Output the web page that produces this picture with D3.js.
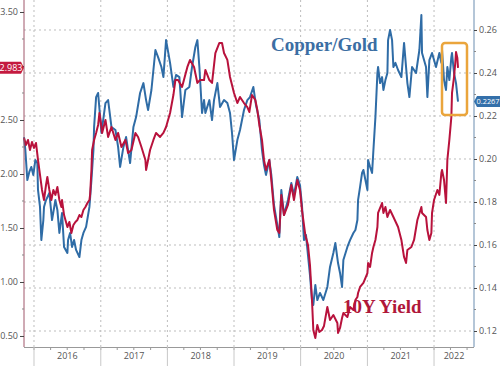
<!DOCTYPE html>
<html><head><meta charset="utf-8">
<script src="https://cdn.jsdelivr.net/npm/d3@7"></script>
<style>body{margin:0;background:#fff}svg{display:block}</style>
</head><body><svg id="c" width="500" height="366"></svg>
<script>
// ---- data (dates as decimal years) ----
const yieldYears = [2015.85,2015.88,2015.91,2015.94,2015.97,2016.00,2016.03,2016.06,2016.09,2016.12,2016.15,2016.18,2016.20,2016.23,2016.26,2016.29,2016.32,2016.35,2016.38,2016.41,2016.42,2016.45,2016.50,2016.53,2016.56,2016.59,2016.62,2016.65,2016.68,2016.71,2016.74,2016.77,2016.80,2016.83,2016.84,2016.86,2016.87,2016.90,2016.93,2016.96,2016.98,2017.01,2017.02,2017.07,2017.11,2017.16,2017.22,2017.26,2017.31,2017.37,2017.41,2017.46,2017.52,2017.56,2017.61,2017.67,2017.68,2017.74,2017.79,2017.83,2017.89,2017.94,2017.98,2018.04,2018.09,2018.12,2018.16,2018.22,2018.30,2018.34,2018.40,2018.45,2018.49,2018.55,2018.57,2018.63,2018.67,2018.72,2018.78,2018.82,2018.85,2018.90,2018.94,2019.00,2019.05,2019.09,2019.15,2019.20,2019.23,2019.27,2019.32,2019.35,2019.38,2019.42,2019.45,2019.48,2019.53,2019.56,2019.60,2019.65,2019.68,2019.71,2019.75,2019.81,2019.86,2019.90,2019.95,2019.99,2020.02,2020.07,2020.11,2020.14,2020.17,2020.19,2020.22,2020.25,2020.28,2020.32,2020.35,2020.40,2020.44,2020.49,2020.55,2020.56,2020.59,2020.62,2020.64,2020.70,2020.74,2020.79,2020.82,2020.85,2020.86,2020.89,2020.94,2021.00,2021.01,2021.04,2021.07,2021.09,2021.12,2021.15,2021.16,2021.22,2021.24,2021.27,2021.30,2021.34,2021.39,2021.46,2021.51,2021.55,2021.58,2021.60,2021.66,2021.70,2021.75,2021.81,2021.82,2021.88,2021.90,2021.93,2021.96,2021.97,2022.00,2022.05,2022.08,2022.11,2022.12,2022.15,2022.18,2022.20,2022.23,2022.26,2022.27,2022.30,2022.32,2022.33,2022.35,2022.36];
const yieldValues = [2.333,2.269,2.315,2.222,2.296,2.241,2.287,2.130,1.991,1.852,1.759,1.898,1.972,1.852,1.759,1.852,1.806,1.880,1.759,1.694,1.759,1.620,1.509,1.556,1.454,1.528,1.556,1.574,1.620,1.602,1.667,1.694,1.731,1.759,1.806,2.037,2.222,2.315,2.380,2.454,2.565,2.435,2.380,2.500,2.343,2.435,2.315,2.380,2.250,2.315,2.194,2.222,2.380,2.343,2.250,2.130,2.037,2.222,2.315,2.380,2.343,2.380,2.435,2.565,2.731,2.870,2.870,2.806,2.991,3.056,2.991,2.843,2.870,2.870,2.963,2.870,2.843,3.120,3.213,3.213,3.120,3.056,2.898,2.750,2.657,2.713,2.657,2.620,2.574,2.731,2.685,2.593,2.454,2.315,2.130,2.037,2.130,1.944,1.667,1.481,1.454,1.806,1.620,1.713,1.898,1.759,1.944,1.852,1.667,1.435,1.343,1.157,0.833,0.556,0.481,0.602,0.537,0.556,0.593,0.769,0.648,0.694,0.620,0.528,0.574,0.667,0.713,0.676,0.769,0.741,0.833,0.861,0.898,0.954,0.991,1.083,1.176,1.139,1.269,1.324,1.389,1.509,1.639,1.731,1.639,1.694,1.602,1.667,1.602,1.509,1.389,1.231,1.176,1.296,1.324,1.389,1.574,1.694,1.639,1.602,1.481,1.389,1.454,1.639,1.759,1.852,1.806,2.009,2.037,1.944,1.731,2.130,2.315,2.528,2.750,2.898,3.037,3.130,3.074,2.983];

const ratioYears = [2015.85,2015.87,2015.90,2015.93,2015.96,2015.99,2016.02,2016.05,2016.06,2016.09,2016.11,2016.14,2016.15,2016.18,2016.23,2016.27,2016.32,2016.35,2016.38,2016.42,2016.45,2016.50,2016.51,2016.54,2016.57,2016.60,2016.63,2016.68,2016.71,2016.74,2016.78,2016.83,2016.86,2016.89,2016.90,2016.93,2016.96,2017.01,2017.07,2017.11,2017.16,2017.22,2017.26,2017.29,2017.34,2017.38,2017.44,2017.49,2017.53,2017.59,2017.64,2017.68,2017.71,2017.76,2017.82,2017.86,2017.91,2017.94,2017.98,2018.04,2018.09,2018.13,2018.18,2018.22,2018.27,2018.33,2018.37,2018.42,2018.45,2018.48,2018.52,2018.55,2018.57,2018.63,2018.67,2018.70,2018.75,2018.79,2018.85,2018.90,2018.94,2018.97,2019.00,2019.05,2019.09,2019.15,2019.20,2019.24,2019.29,2019.33,2019.38,2019.42,2019.45,2019.48,2019.53,2019.56,2019.60,2019.65,2019.68,2019.71,2019.75,2019.81,2019.86,2019.90,2019.95,2019.99,2020.02,2020.05,2020.08,2020.11,2020.14,2020.17,2020.19,2020.22,2020.25,2020.29,2020.34,2020.40,2020.44,2020.49,2020.52,2020.56,2020.59,2020.62,2020.64,2020.70,2020.74,2020.79,2020.82,2020.85,2020.86,2020.89,2020.92,2020.94,2020.97,2021.00,2021.01,2021.04,2021.07,2021.09,2021.12,2021.15,2021.16,2021.19,2021.22,2021.24,2021.27,2021.30,2021.31,2021.34,2021.37,2021.39,2021.42,2021.46,2021.51,2021.55,2021.60,2021.63,2021.67,2021.73,2021.78,2021.81,2021.82,2021.88,2021.90,2021.93,2021.97,2022.03,2022.08,2022.11,2022.12,2022.15,2022.18,2022.20,2022.23,2022.26,2022.27,2022.30,2022.33,2022.36];
const ratioValues = [0.2102,0.2042,0.1902,0.1940,0.1963,0.1926,0.1995,0.1981,0.1856,0.1777,0.1623,0.1716,0.1777,0.1809,0.1842,0.1716,0.1809,0.1763,0.1656,0.1749,0.1591,0.1563,0.1623,0.1656,0.1591,0.1623,0.1577,0.1544,0.1623,0.1656,0.1684,0.1777,0.1902,0.2042,0.2149,0.2288,0.2307,0.2121,0.2260,0.2274,0.2149,0.2135,0.2056,0.1963,0.2056,0.2102,0.1981,0.2149,0.2195,0.2307,0.2353,0.2274,0.2228,0.2321,0.2507,0.2474,0.2428,0.2381,0.2553,0.2447,0.2335,0.2391,0.2381,0.2195,0.2321,0.2335,0.2428,0.2521,0.2553,0.2428,0.2214,0.2274,0.2214,0.2274,0.2181,0.2274,0.2353,0.2242,0.2274,0.2260,0.2214,0.2121,0.1995,0.2088,0.2135,0.2228,0.2274,0.2288,0.2335,0.2251,0.2181,0.2042,0.1972,0.1926,0.1995,0.1926,0.1786,0.1693,0.1637,0.1856,0.1740,0.1809,0.1888,0.1833,0.1916,0.1879,0.1786,0.1623,0.1647,0.1553,0.1460,0.1344,0.1321,0.1414,0.1344,0.1377,0.1344,0.1405,0.1498,0.1563,0.1609,0.1516,0.1470,0.1405,0.1530,0.1591,0.1623,0.1656,0.1670,0.1716,0.1809,0.1870,0.1935,0.1949,0.1902,0.1856,0.1995,0.1963,0.1935,0.2042,0.2195,0.2400,0.2428,0.2353,0.2381,0.2321,0.2367,0.2400,0.2553,0.2600,0.2553,0.2428,0.2447,0.2414,0.2381,0.2540,0.2353,0.2288,0.2428,0.2400,0.2507,0.2670,0.2493,0.2428,0.2288,0.2460,0.2493,0.2428,0.2493,0.2447,0.2507,0.2367,0.2321,0.2428,0.2367,0.2474,0.2493,0.2400,0.2353,0.2267];

const yearLabels = ["2016","2017","2018","2019","2020","2021","2022"];
const leftTicks = [0.5,1.0,1.5,2.0,2.5,3.0,3.5];
const leftMinor = [0.75,1.25,1.75,2.25,2.75,3.25];
const rightTicks = [0.12,0.14,0.16,0.18,0.20,0.22,0.24,0.26];
const rightMinor = [0.13,0.15,0.17,0.19,0.21,0.23,0.25];
const lastYield = 2.983, lastRatio = 0.2267;
const seriesNames = ["Copper/Gold","10Y Yield"];

// ---- helpers ----
function toDate(y){const yr=Math.floor(y);const s=new Date(yr,0,1),e=new Date(yr+1,0,1);return new Date(+s+(y-yr)*(e-s));}

const L=24,R=474,T=0,B=347;
const svg=d3.select("#c");
const x=d3.scaleTime().domain([toDate(2015.85),toDate(2022.60)]).range([L,R]);
const yL=d3.scaleLinear().domain([0.398,3.611]).range([B,T]);
const yR=d3.scaleLinear().domain([0.11256,0.27395]).range([B,T]);
const font="'Open Sans', 'Noto Sans', sans-serif";

// gridlines
const grid=svg.append("g");
grid.selectAll("line.h").data(rightTicks).join("line")
  .attr("x1",L).attr("x2",R).attr("y1",d=>yR(d)).attr("y2",d=>yR(d))
  .attr("stroke","#bdbdbd").attr("stroke-width",1).attr("stroke-dasharray","2,3");
const yearStarts=yearLabels.map(s=>new Date(+s,0,1));
grid.selectAll("line.v").data(yearStarts).join("line")
  .attr("x1",d=>x(d)).attr("x2",d=>x(d)).attr("y1",T).attr("y2",B)
  .attr("stroke","#bdbdbd").attr("stroke-width",1).attr("stroke-dasharray","2,3");

// series labels
svg.append("text").attr("x",271).attr("y",51).text(seriesNames[0])
  .attr("font-family","'Liberation Serif', 'DejaVu Serif', serif").attr("font-weight","bold")
  .attr("font-size",19).attr("fill","#3b6ea3");
svg.append("text").attr("x",343).attr("y",313).text(seriesNames[1])
  .attr("font-family","'Liberation Serif', 'DejaVu Serif', serif").attr("font-weight","bold")
  .attr("font-size",19).attr("fill","#b0173a");

// lines
const ratioData=ratioYears.map((d,i)=>({d:toDate(d),v:ratioValues[i]}));
const yieldData=yieldYears.map((d,i)=>({d:toDate(d),v:yieldValues[i]}));
svg.append("path").datum(ratioData)
  .attr("d",d3.line().x(d=>x(d.d)).y(d=>yR(d.v)))
  .attr("fill","none").attr("stroke","#2f6ca6").attr("stroke-width",2).attr("stroke-linejoin","round");
svg.append("path").datum(yieldData)
  .attr("d",d3.line().x(d=>x(d.d)).y(d=>yL(d.v)))
  .attr("fill","none").attr("stroke","#b8123c").attr("stroke-width",2).attr("stroke-linejoin","round");

// orange box
svg.append("rect").attr("x",442).attr("y",43).attr("width",25).attr("height",72).attr("rx",3)
  .attr("fill","none").attr("stroke","#eaa53c").attr("stroke-width",2.5);

// left axis (3.00 label sits under the last-value tag, so it is left blank)
const gl=svg.append("g").attr("transform",`translate(${L},0)`)
  .call(d3.axisLeft(yL).tickValues(leftTicks).tickSize(4).tickPadding(2)
    .tickFormat(d=>Math.abs(d-3)<1e-9?"":d3.format(".2f")(d)));
gl.select(".domain").attr("stroke","#a0566a").attr("d",`M0,${T}V${B}`);
gl.selectAll(".tick line").attr("stroke","#444");
gl.selectAll(".tick text").attr("font-family",font).attr("font-size",9).attr("fill","#555");
svg.append("g").selectAll("line").data(leftMinor).join("line")
  .attr("x1",L-2).attr("x2",L).attr("y1",d=>yL(d)).attr("y2",d=>yL(d)).attr("stroke","#888");

// right axis
const gr=svg.append("g").attr("transform",`translate(${R},0)`)
  .call(d3.axisRight(yR).tickValues(rightTicks).tickSize(3).tickPadding(2).tickFormat(d3.format(".2f")));
gr.select(".domain").attr("stroke","#6b8db0").attr("d",`M0,${T}V${B}`);
gr.selectAll(".tick line").attr("stroke","#444");
gr.selectAll(".tick text").attr("font-family",font).attr("font-size",9).attr("fill","#555");
svg.append("g").selectAll("line").data(rightMinor).join("line")
  .attr("x1",R).attr("x2",R+2).attr("y1",d=>yR(d)).attr("y2",d=>yR(d)).attr("stroke","#888");

// bottom axis
svg.append("line").attr("x1",L).attr("x2",R).attr("y1",B+0.5).attr("y2",B+0.5).attr("stroke","#999");
const gb=svg.append("g");
gb.selectAll("line.q").data(d3.timeMonth.every(3).range(x.domain()[0],x.domain()[1]))
  .join("line").attr("x1",d=>x(d)).attr("x2",d=>x(d)).attr("y1",B).attr("y2",B+3).attr("stroke","#999");
gb.selectAll("line.y").data(yearStarts).join("line")
  .attr("x1",d=>x(d)).attr("x2",d=>x(d)).attr("y1",B).attr("y2",366).attr("stroke","#c8c8c8");
gb.selectAll("text").data(yearLabels).join("text")
  .attr("x",(s)=>{const a=new Date(+s,0,1),b=new Date(+s+1,0,1);const e=b>x.domain()[1]?x.domain()[1]:b;return (x(a)+x(e))/2;})
  .attr("y",359).attr("text-anchor","middle").attr("font-family",font).attr("font-size",9).attr("fill","#555")
  .text(d=>d);

// last value tags
const ty=yL(lastYield);
svg.append("path").attr("d",`M0,${ty-6}H21L24,${ty}L21,${ty+6}H0Z`).attr("fill","#c41a3f");
svg.append("text").attr("x",11).attr("y",ty+3).attr("text-anchor","middle").attr("font-family",font)
  .attr("font-size",9).attr("fill","#fff").text(d3.format(".3f")(lastYield));
const tr=yR(lastRatio);
svg.append("path").attr("d",`M${R},${tr}L${R+3},${tr-5.5}H500V${tr+5.5}H${R+3}Z`).attr("fill","#3470aa");
svg.append("text").attr("x",R+2.5).attr("y",tr+2.8).attr("font-family",font)
  .attr("font-size",7.4).attr("fill","#fff").text(d3.format(".4f")(lastRatio));
</script></body></html>
